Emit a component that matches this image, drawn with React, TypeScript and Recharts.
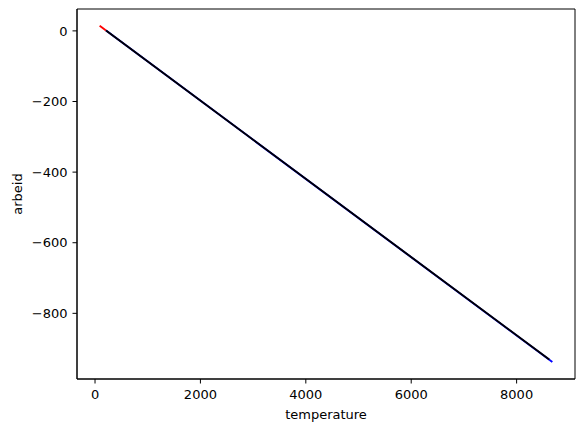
import { LineChart, Line, XAxis, YAxis, ReferenceArea, Label } from "recharts";

// temperature / arbeid samples, one array per line
const redTemp = [88, 209];
const redWork = [14.4, 1.0];
const blueTemp = [209, 8678];
const blueWork = [1.0, -938];
const blackTemp = [209, 8620];
const blackWork = [1.0, -931];

const xTicks = [0, 2000, 4000, 6000, 8000];
const yTicks = [-800, -600, -400, -200, 0];
const xDomain = [-342, 9108];
const yDomain = [-986, 62];

const toRows = (temps: number[], work: number[]) =>
  temps.map((t, i) => ({ t, w: work[i] }));

const redData = toRows(redTemp, redWork);
const blueData = toRows(blueTemp, blueWork);
const blackData = toRows(blackTemp, blackWork);

const font = { fontFamily: "DejaVu Sans", fontSize: 13, fill: "#000000" };
const fmt = (v: number) => String(v).replace("-", "\u2212");

const YLabel = (props: any) => {
  const vb = props.viewBox || { x: 0, y: 0, width: 77, height: 370 };
  const cx = vb.x + 21.5;
  const cy = vb.y + vb.height / 2;
  return (
    <text
      x={cx}
      y={cy}
      transform={`rotate(-90 ${cx} ${cy})`}
      textAnchor="middle"
      {...font}
    >
      arbeid
    </text>
  );
};

export default function App() {
  return (
    <div style={{ position: "absolute", left: 0, top: 0, background: "#fff" }}>
      <LineChart
        width={583}
        height={432}
        margin={{ top: 9, right: 8, left: 0, bottom: 0 }}
      >
        <XAxis
          type="number"
          dataKey="t"
          domain={xDomain}
          ticks={xTicks}
          interval={0}
          allowDataOverflow
          height={53}
          tickSize={4.5}
          tickMargin={6}
          stroke="#000000"
          tick={font}
          tickFormatter={fmt}
        >
          <Label
            value="temperature"
            position="insideBottom"
            offset={13}
            style={{ fontFamily: "DejaVu Sans", fontSize: 13, fill: "#000000" }}
          />
        </XAxis>
        <YAxis
          type="number"
          dataKey="w"
          domain={yDomain}
          ticks={yTicks}
          interval={0}
          allowDataOverflow
          width={77}
          tickSize={4.5}
          tickMargin={5}
          stroke="#000000"
          tick={font}
          tickFormatter={fmt}
          label={<YLabel />}
        />
        <ReferenceArea
          x1={xDomain[0]}
          x2={xDomain[1]}
          y1={yDomain[0]}
          y2={yDomain[1]}
          fill="none"
          stroke="#000000"
          strokeWidth={1}
          fillOpacity={0}
        />
        <Line
          data={redData}
          dataKey="w"
          stroke="#ff0000"
          strokeWidth={1.9}
          dot={false}
          isAnimationActive={false}
        />
        <Line
          data={blueData}
          dataKey="w"
          stroke="#0000ff"
          strokeWidth={1.9}
          dot={false}
          isAnimationActive={false}
        />
        <Line
          data={blackData}
          dataKey="w"
          stroke="#000000"
          strokeWidth={1.9}
          dot={false}
          isAnimationActive={false}
        />
      </LineChart>
    </div>
  );
}
